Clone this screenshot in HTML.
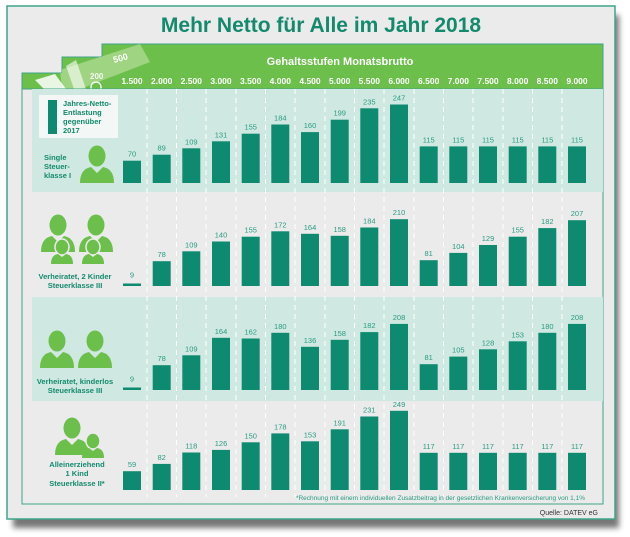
<!DOCTYPE html>
<html><head><meta charset="utf-8"><style>
html,body{margin:0;padding:0;background:#fff;}
svg{display:block;font-family:"Liberation Sans",Arial,sans-serif;}
</style></head><body>
<svg width="630" height="537" viewBox="0 0 630 537" xmlns="http://www.w3.org/2000/svg">
<defs>
<filter id="sh" x="-5%" y="-5%" width="115%" height="115%"><feGaussianBlur stdDeviation="3"/></filter>
<g id="p"><ellipse cx="0" cy="-8" rx="8.5" ry="10.5" fill="#6cbf4a"/><path d="M-17,19 Q-17,5 -6,3 L0,9 L6,3 Q17,5 17,19 Z" fill="#6cbf4a"/></g>
<g id="k"><ellipse cx="0" cy="-4" rx="7" ry="8" fill="#6cbf4a" stroke="#ebebec" stroke-width="1.5"/><path d="M-11,13 Q-11,4 -4,3 L0,6 L4,3 Q11,4 11,13 Z" fill="#6cbf4a"/></g>
<clipPath id="hc"><path d="M22,73 L62,73 L62,57 L102,57 L102,44 L603,44 L603,89 L22,89 Z"/></clipPath>
</defs>
<rect x="0" y="0" width="630" height="537" fill="#fff"/>
<rect x="13" y="15" width="606" height="513" fill="#555" filter="url(#sh)" opacity="0.8"/>
<rect x="7" y="6" width="608" height="513" fill="#ebebec" stroke="#3fa58a" stroke-width="1.5"/>
<text x="321" y="32" text-anchor="middle" font-size="21" font-weight="bold" fill="#138a6d">Mehr Netto für Alle im Jahr 2018</text>
<!-- green header -->
<path d="M22,73 L62,73 L62,57 L102,57 L102,44 L603,44 L603,89 L22,89 Z" fill="#6cbf4a" stroke="#3fa58a" stroke-width="1"/>
<g clip-path="url(#hc)">
<polygon points="60,70 140,44 150,62 80,89 62,89" fill="#a8d88c" opacity="0.85"/>
<polygon points="35,80 55,74 66,89 44,89" fill="#fff" opacity="0.85"/>
<polygon points="66,66 76,60 86,89 74,89" fill="#fff" opacity="0.6"/>
<text x="114" y="63" font-size="9" font-weight="bold" fill="#fff" transform="rotate(-15 114 63)">500</text>
<text x="90" y="79" font-size="8" font-weight="bold" fill="#fff" opacity="0.9">200</text>
<circle cx="96" cy="87" r="5" fill="none" stroke="#fff" stroke-width="1.3"/>
</g>
<text x="340" y="65" text-anchor="middle" font-size="11" font-weight="bold" fill="#fff">Gehaltsstufen Monatsbrutto</text>
<g font-size="8.5" font-weight="bold" fill="#fff" text-anchor="middle">
<text x="132" y="84">1.500</text><text x="161.7" y="84">2.000</text><text x="191.3" y="84">2.500</text><text x="221" y="84">3.000</text><text x="250.7" y="84">3.500</text><text x="280.3" y="84">4.000</text><text x="310" y="84">4.500</text><text x="339.7" y="84">5.000</text><text x="369.3" y="84">5.500</text><text x="399" y="84">6.000</text><text x="428.7" y="84">6.500</text><text x="458.3" y="84">7.000</text><text x="488" y="84">7.500</text><text x="517.7" y="84">8.000</text><text x="547.3" y="84">8.500</text><text x="577" y="84">9.000</text>
</g>
<!-- inner panel -->
<rect x="22" y="89" width="581" height="415" fill="#ebebec" stroke="#3fa58a" stroke-width="1"/>
<rect x="32" y="89" width="571" height="103" fill="#cfe9e2"/>
<rect x="32" y="297" width="571" height="104" fill="#cfe9e2"/>
<g stroke="#fff" stroke-width="1" stroke-dasharray="5,4">
<line x1="147" y1="89" x2="147" y2="497"/><line x1="176.5" y1="89" x2="176.5" y2="497"/><line x1="206" y1="89" x2="206" y2="497"/><line x1="236" y1="89" x2="236" y2="497"/><line x1="265.5" y1="89" x2="265.5" y2="497"/><line x1="295" y1="89" x2="295" y2="497"/><line x1="325" y1="89" x2="325" y2="497"/><line x1="354.5" y1="89" x2="354.5" y2="497"/><line x1="384" y1="89" x2="384" y2="497"/><line x1="414" y1="89" x2="414" y2="497"/><line x1="443.5" y1="89" x2="443.5" y2="497"/><line x1="473" y1="89" x2="473" y2="497"/><line x1="503" y1="89" x2="503" y2="497"/><line x1="532.5" y1="89" x2="532.5" y2="497"/><line x1="562" y1="89" x2="562" y2="497"/>
</g>
<!-- legend -->
<rect x="39" y="95" width="79" height="43" fill="#f3f8f6"/>
<rect x="48" y="100" width="9" height="34" fill="#0e8a70"/>
<g font-size="7.5" font-weight="bold" fill="#138a6d"><text x="63" y="106">Jahres-Netto-</text><text x="63" y="115">Entlastung</text><text x="63" y="124">gegenüber</text><text x="63" y="133">2017</text></g>
<!-- row labels & icons -->
<g font-size="7.5" font-weight="bold" fill="#138a6d">
<text x="44" y="160">Single</text><text x="44" y="169">Steuer-</text><text x="44" y="178">klasse I</text>
<text x="75" y="279" text-anchor="middle">Verheiratet, 2 Kinder</text><text x="75" y="288" text-anchor="middle">Steuerklasse III</text>
<text x="75" y="384" text-anchor="middle">Verheiratet, kinderlos</text><text x="75" y="393" text-anchor="middle">Steuerklasse III</text>
<text x="77" y="467" text-anchor="middle">Alleinerziehend</text><text x="77" y="476" text-anchor="middle">1 Kind</text><text x="77" y="486" text-anchor="middle">Steuerklasse II*</text>
</g>
<use href="#p" x="97" y="164"/>
<use href="#p" x="58" y="233"/><use href="#p" x="96" y="233"/><use href="#k" x="62" y="251"/><use href="#k" x="93" y="251"/>
<use href="#p" x="57" y="349"/><use href="#p" x="95" y="349"/>
<use href="#p" x="72" y="436"/><use href="#k" x="93" y="445"/>
<!-- bars -->
<g fill="#0e8a70">
<g transform="translate(0,183)">
<rect x="123" y="-22.3" width="18" height="22.3"/><rect x="152.7" y="-28.3" width="18" height="28.3"/><rect x="182.3" y="-34.7" width="18" height="34.7"/><rect x="212" y="-41.7" width="18" height="41.7"/><rect x="241.7" y="-49.3" width="18" height="49.3"/><rect x="271.3" y="-58.5" width="18" height="58.5"/><rect x="301" y="-50.9" width="18" height="50.9"/><rect x="330.7" y="-63.3" width="18" height="63.3"/><rect x="360.3" y="-74.7" width="18" height="74.7"/><rect x="390" y="-78.5" width="18" height="78.5"/><rect x="419.7" y="-36.6" width="18" height="36.6"/><rect x="449.3" y="-36.6" width="18" height="36.6"/><rect x="479" y="-36.6" width="18" height="36.6"/><rect x="508.7" y="-36.6" width="18" height="36.6"/><rect x="538.3" y="-36.6" width="18" height="36.6"/><rect x="568" y="-36.6" width="18" height="36.6"/>
</g>
<g transform="translate(0,286)">
<rect x="123" y="-2.5" width="18" height="2.5"/><rect x="152.7" y="-24.8" width="18" height="24.8"/><rect x="182.3" y="-34.7" width="18" height="34.7"/><rect x="212" y="-44.5" width="18" height="44.5"/><rect x="241.7" y="-49.3" width="18" height="49.3"/><rect x="271.3" y="-54.7" width="18" height="54.7"/><rect x="301" y="-52.2" width="18" height="52.2"/><rect x="330.7" y="-50.2" width="18" height="50.2"/><rect x="360.3" y="-58.5" width="18" height="58.5"/><rect x="390" y="-66.8" width="18" height="66.8"/><rect x="419.7" y="-25.8" width="18" height="25.8"/><rect x="449.3" y="-33.1" width="18" height="33.1"/><rect x="479" y="-41" width="18" height="41"/><rect x="508.7" y="-49.3" width="18" height="49.3"/><rect x="538.3" y="-57.9" width="18" height="57.9"/><rect x="568" y="-65.8" width="18" height="65.8"/>
</g>
<g transform="translate(0,390)">
<rect x="123" y="-2.5" width="18" height="2.5"/><rect x="152.7" y="-24.8" width="18" height="24.8"/><rect x="182.3" y="-34.7" width="18" height="34.7"/><rect x="212" y="-52.2" width="18" height="52.2"/><rect x="241.7" y="-51.5" width="18" height="51.5"/><rect x="271.3" y="-57.2" width="18" height="57.2"/><rect x="301" y="-43.2" width="18" height="43.2"/><rect x="330.7" y="-50.2" width="18" height="50.2"/><rect x="360.3" y="-57.9" width="18" height="57.9"/><rect x="390" y="-66.1" width="18" height="66.1"/><rect x="419.7" y="-25.8" width="18" height="25.8"/><rect x="449.3" y="-33.4" width="18" height="33.4"/><rect x="479" y="-40.7" width="18" height="40.7"/><rect x="508.7" y="-48.7" width="18" height="48.7"/><rect x="538.3" y="-57.2" width="18" height="57.2"/><rect x="568" y="-66.1" width="18" height="66.1"/>
</g>
<g transform="translate(0,490)">
<rect x="123" y="-18.8" width="18" height="18.8"/><rect x="152.7" y="-26.1" width="18" height="26.1"/><rect x="182.3" y="-37.5" width="18" height="37.5"/><rect x="212" y="-40.1" width="18" height="40.1"/><rect x="241.7" y="-47.7" width="18" height="47.7"/><rect x="271.3" y="-56.6" width="18" height="56.6"/><rect x="301" y="-48.7" width="18" height="48.7"/><rect x="330.7" y="-60.7" width="18" height="60.7"/><rect x="360.3" y="-73.5" width="18" height="73.5"/><rect x="390" y="-79.2" width="18" height="79.2"/><rect x="419.7" y="-37.2" width="18" height="37.2"/><rect x="449.3" y="-37.2" width="18" height="37.2"/><rect x="479" y="-37.2" width="18" height="37.2"/><rect x="508.7" y="-37.2" width="18" height="37.2"/><rect x="538.3" y="-37.2" width="18" height="37.2"/><rect x="568" y="-37.2" width="18" height="37.2"/>
</g>
</g>
<!-- value labels -->
<g font-size="7.5" fill="#2a9a80" text-anchor="middle">
<g transform="translate(0,179)">
<text x="132" y="-22.3">70</text><text x="161.7" y="-28.3">89</text><text x="191.3" y="-34.7">109</text><text x="221" y="-41.7">131</text><text x="250.7" y="-49.3">155</text><text x="280.3" y="-58.5">184</text><text x="310" y="-50.9">160</text><text x="339.7" y="-63.3">199</text><text x="369.3" y="-74.7">235</text><text x="399" y="-78.5">247</text><text x="428.7" y="-36.6">115</text><text x="458.3" y="-36.6">115</text><text x="488" y="-36.6">115</text><text x="517.7" y="-36.6">115</text><text x="547.3" y="-36.6">115</text><text x="577" y="-36.6">115</text>
</g>
<g transform="translate(0,282)">
<text x="132" y="-4.5">9</text><text x="161.7" y="-24.8">78</text><text x="191.3" y="-34.7">109</text><text x="221" y="-44.5">140</text><text x="250.7" y="-49.3">155</text><text x="280.3" y="-54.7">172</text><text x="310" y="-52.2">164</text><text x="339.7" y="-50.2">158</text><text x="369.3" y="-58.5">184</text><text x="399" y="-66.8">210</text><text x="428.7" y="-25.8">81</text><text x="458.3" y="-33.1">104</text><text x="488" y="-41">129</text><text x="517.7" y="-49.3">155</text><text x="547.3" y="-57.9">182</text><text x="577" y="-65.8">207</text>
</g>
<g transform="translate(0,386)">
<text x="132" y="-4.5">9</text><text x="161.7" y="-24.8">78</text><text x="191.3" y="-34.7">109</text><text x="221" y="-52.2">164</text><text x="250.7" y="-51.5">162</text><text x="280.3" y="-57.2">180</text><text x="310" y="-43.2">136</text><text x="339.7" y="-50.2">158</text><text x="369.3" y="-57.9">182</text><text x="399" y="-66.1">208</text><text x="428.7" y="-25.8">81</text><text x="458.3" y="-33.4">105</text><text x="488" y="-40.7">128</text><text x="517.7" y="-48.7">153</text><text x="547.3" y="-57.2">180</text><text x="577" y="-66.1">208</text>
</g>
<g transform="translate(0,486)">
<text x="132" y="-18.8">59</text><text x="161.7" y="-26.1">82</text><text x="191.3" y="-37.5">118</text><text x="221" y="-40.1">126</text><text x="250.7" y="-47.7">150</text><text x="280.3" y="-56.6">178</text><text x="310" y="-48.7">153</text><text x="339.7" y="-60.7">191</text><text x="369.3" y="-73.5">231</text><text x="399" y="-79.2">249</text><text x="428.7" y="-37.2">117</text><text x="458.3" y="-37.2">117</text><text x="488" y="-37.2">117</text><text x="517.7" y="-37.2">117</text><text x="547.3" y="-37.2">117</text><text x="577" y="-37.2">117</text>
</g>
</g>
<text x="585" y="500" text-anchor="end" font-size="6.5" fill="#2a9a80">*Rechnung mit einem individuellen Zusatzbeitrag in der gesetzlichen Krankenversicherung von 1,1%</text>
<text x="598" y="515" text-anchor="end" font-size="7" fill="#333">Quelle: DATEV eG</text>
</svg>
</body></html>
